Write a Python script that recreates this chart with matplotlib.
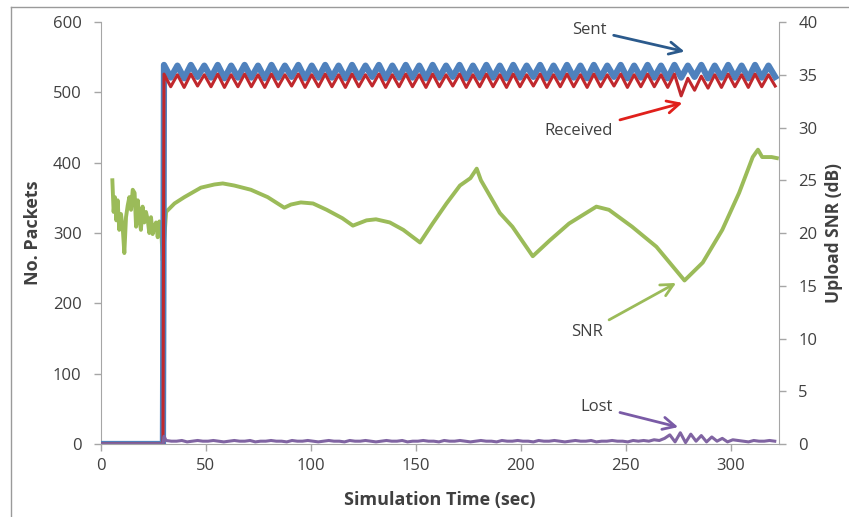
import numpy as np
import matplotlib.pyplot as plt
from matplotlib.lines import Line2D

plt.rcParams['font.family'] = ['Open Sans', 'DejaVu Sans']

# sent / received packets (left axis), half-period samples after the start at ~30 s
pre_t = [0, 29.5]
pre_v = [0, 0]
pkt_t = np.arange(30, 322, 3.2)

sent = [539, 521, 538, 520, 539, 522, 538, 521, 539, 520,
        538, 521, 539, 521, 538, 520, 539, 521, 538, 522,
        539, 520, 538, 521, 539, 521, 538, 520, 539, 521,
        538, 522, 539, 520, 538, 521, 539, 521, 538, 520,
        539, 521, 538, 522, 539, 520, 538, 521, 539, 521,
        538, 520, 539, 521, 538, 522, 539, 520, 538, 521,
        539, 521, 538, 520, 539, 521, 538, 522, 539, 520,
        538, 521, 539, 521, 538, 520, 539, 521, 538, 522,
        539, 520, 538, 521, 539, 521, 538, 520, 539, 521,
        538, 522]

received = [526, 508, 525, 507, 526, 509, 525, 508, 526, 507,
            525, 508, 526, 508, 525, 507, 526, 508, 525, 509,
            526, 507, 525, 508, 526, 508, 525, 507, 526, 508,
            525, 509, 526, 507, 525, 508, 526, 508, 525, 507,
            526, 508, 525, 509, 526, 507, 525, 508, 526, 508,
            525, 507, 526, 508, 525, 509, 526, 507, 525, 508,
            526, 508, 525, 507, 526, 508, 525, 509, 526, 507,
            525, 508, 526, 508, 525, 507, 526, 495, 520, 503,
            523, 506, 525, 507, 526, 508, 525, 507, 526, 508,
            525, 509]

# lost packets
lost_pre_t = [0, 29.5, 30]
lost_pre_v = [0, 0, 11]
lost_t = np.arange(31, 322, 2.5)
lost = [5, 4, 4, 5, 3, 4, 5, 4, 4, 5,
        4, 3, 4, 5, 4, 4, 5, 3, 4, 4,
        5, 4, 4, 3, 5, 4, 4, 5, 4, 3,
        4, 5, 4, 4, 3, 5, 4, 4, 5, 4,
        3, 4, 5, 4, 4, 5, 3, 4, 4, 5,
        4, 4, 3, 5, 4, 4, 5, 4, 3, 4,
        5, 4, 4, 3, 5, 4, 4, 5, 4, 4,
        3, 5, 4, 4, 5, 4, 3, 4, 5, 4,
        4, 5, 3, 4, 4, 5, 4, 4, 3, 5,
        4, 5, 4, 6, 5, 8, 13, 3, 16, 2,
        14, 4, 12, 3, 10, 4, 8, 3, 6, 5,
        4, 3, 5, 4, 4, 5, 4]

# upload SNR (right axis)
snr_t = [5.4, 6.0, 6.6, 7.3, 7.9, 8.7, 9.5, 10.3, 11.1, 11.9,
         12.7, 13.5, 14.3, 15.1, 16.0, 16.7, 17.5, 18.2, 19.0, 19.8,
         20.6, 21.4, 22.2, 23.0, 23.8, 24.6, 25.4, 26.2, 27.0, 27.8,
         28.6, 29.4, 30.2, 31.0, 35, 39.7, 47.6, 54, 58, 63.5,
         71.4, 79.4, 87.3, 90.5, 95.2, 101, 107.5, 115, 120, 126.5,
         131, 137.6, 144, 152, 158, 164.6, 171, 176, 179, 181,
         190, 196, 205.7, 213.8, 223, 236, 242, 253, 264.6, 278,
         286.7, 296, 304, 310.5, 313, 315, 319.5, 322]
snr = [25.0, 22.0, 23.4, 21.2, 23.1, 20.3, 21.8, 20.6, 18.1, 21.5,
       22.6, 23.4, 22.2, 24.1, 23.8, 20.6, 23.1, 21.4, 20.3, 22.5,
       21.0, 22.0, 21.3, 20.0, 21.5, 19.9, 20.6, 21.0, 19.6, 21.1,
       20.6, 17.4, 19.6, 22.0, 22.8, 23.4, 24.3, 24.6, 24.7, 24.5,
       24.1, 23.4, 22.4, 22.7, 22.9, 22.8, 22.2, 21.4, 20.7, 21.2,
       21.3, 21.0, 20.3, 19.1, 20.9, 22.8, 24.5, 25.2, 26.1, 25.0,
       21.9, 20.6, 17.8, 19.3, 20.9, 22.5, 22.2, 20.6, 18.7, 15.5,
       17.2, 20.3, 23.8, 27.2, 27.9, 27.2, 27.2, 27.1]

fig = plt.figure(figsize=(8.49, 5.17), dpi=100)
ax1 = fig.add_axes([0.119, 0.1412, 0.7985, 0.8162])
ax2 = ax1.twinx()

ax1.plot(pre_t + list(pkt_t), pre_v + sent, color='#4F81BD', lw=4.5, zorder=3)
ax1.plot(pre_t + list(pkt_t), pre_v + received, color='#C0282D', lw=2.2, zorder=4)
ax1.plot(lost_pre_t + list(lost_t), lost_pre_v + lost, color='#8064A2', lw=2.2, zorder=5)
ax2.plot(snr_t, snr, color='#9BBB59', lw=2.8)

ax1.set_zorder(ax2.get_zorder() + 1)
ax1.patch.set_visible(False)

ax1.set_xlim(0, 323)
ax1.set_ylim(0, 600)
ax2.set_ylim(0, 40)
ax1.set_xticks(range(0, 301, 50))
ax1.set_yticks(range(0, 601, 100))
ax2.set_yticks(range(0, 41, 5))

grey = '#A6A6A6'
txt = '#404040'
for ax in (ax1, ax2):
    ax.spines['top'].set_visible(False)
    for s in ('left', 'right', 'bottom'):
        ax.spines[s].set_color(grey)
    ax.tick_params(colors=grey, labelcolor=txt, labelsize=12, length=5, width=1, pad=9)
ax1.tick_params(axis='x', pad=5)
ax1.spines['right'].set_visible(False)
ax2.spines['left'].set_visible(False)
ax2.spines['bottom'].set_visible(False)

ax1.set_xlabel('Simulation Time (sec)', fontsize=13, fontweight='bold', color=txt, labelpad=12)
ax1.set_ylabel('No. Packets', fontsize=13, fontweight='bold', color=txt, labelpad=8)
ax2.set_ylabel('Upload SNR (dB)', fontsize=12.5, fontweight='bold', color=txt, labelpad=5)

# callouts
def callout(label, xy, xytext, col):
    ax1.annotate(label, xy=xy, xytext=xytext, fontsize=12, color=txt,
                 ha='right', va='center',
                 arrowprops=dict(arrowstyle='->', color=col, lw=2,
                                 mutation_scale=22, shrinkA=3, shrinkB=0))

callout('Sent', (278, 558), (241, 589), '#2B5A8C')
callout('Received', (277, 485), (244, 445), '#E0201B')
callout('SNR', (274, 229), (239, 159), '#9BBB59')
callout('Lost', (275, 24), (244, 53), '#7A5BA6')

# frame round the chart area
fig.add_artist(Line2D([11 / 849, 11 / 849], [0, 1 - 7 / 517], color='#9A9A9A', lw=1))
fig.add_artist(Line2D([11 / 849, 1], [1 - 7 / 517, 1 - 7 / 517], color='#9A9A9A', lw=1))

fig.savefig('out.png', dpi=100)
